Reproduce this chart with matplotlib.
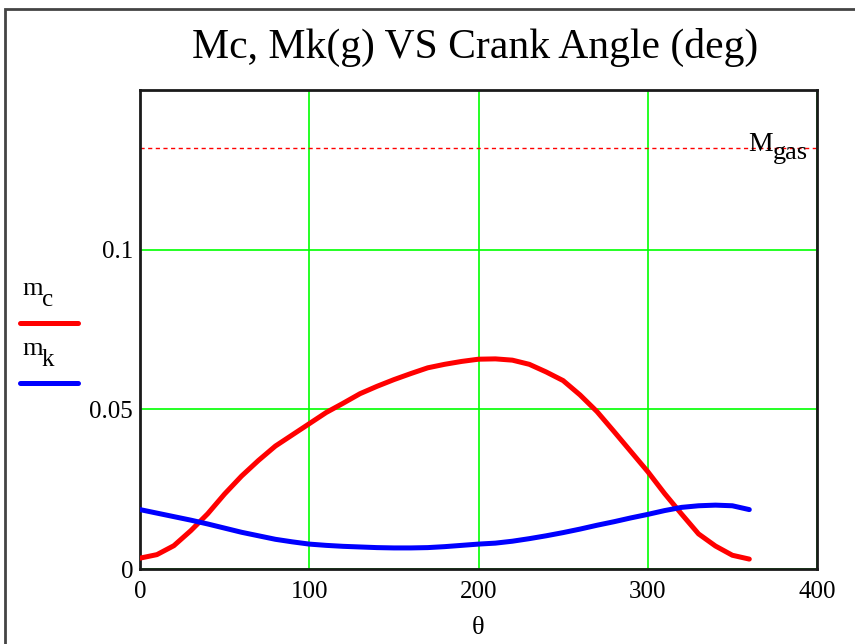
import matplotlib
matplotlib.use("Agg")
import matplotlib.pyplot as plt
from matplotlib.lines import Line2D
from matplotlib.patches import Rectangle

plt.rcParams['font.family'] = ['Liberation Serif', 'DejaVu Serif']

theta = [0, 10, 20, 30, 40, 50, 60, 70, 80, 90, 100, 110, 120, 130, 140, 150, 160, 170, 180,
         190, 200, 210, 220, 230, 240, 250, 260, 270, 280, 290, 300, 310, 320, 330, 340, 350, 360]
m_c = [0.0034, 0.0045, 0.0073, 0.0120, 0.0173, 0.0235, 0.0291, 0.0340, 0.0385, 0.0420, 0.0455,
       0.0490, 0.0519, 0.0549, 0.0572, 0.0593, 0.0612, 0.0630, 0.0641, 0.0650, 0.0657, 0.0658,
       0.0654, 0.0641, 0.0617, 0.0590, 0.0545, 0.0493, 0.0431, 0.0368, 0.0305, 0.0236, 0.0172,
       0.0110, 0.0072, 0.0043, 0.0031]
m_k = [0.0186, 0.0175, 0.0164, 0.0153, 0.0141, 0.0128, 0.0115, 0.0104, 0.0093, 0.0085, 0.0078,
       0.0074, 0.0071, 0.0069, 0.0067, 0.0066, 0.0066, 0.0067, 0.0070, 0.0074, 0.0078, 0.0081,
       0.0087, 0.0095, 0.0104, 0.0114, 0.0125, 0.0137, 0.0148, 0.0160, 0.0171, 0.0183, 0.0193,
       0.0198, 0.0200, 0.0198, 0.0186]
M_gas = 0.1318
x_ticks = [0, 100, 200, 300, 400]
y_ticks = [0, 0.05, 0.1]
y_tick_labels = ['0', '0.05', '0.1']
title = 'Mc, Mk(g) VS Crank Angle (deg)'

W, H = 855, 644


def px(x, y):
    return x / W, 1 - y / H


fig = plt.figure(figsize=(8.55, 6.44), dpi=100)
ax = fig.add_axes([140 / W, 1 - 569 / H, (817 - 140) / W, (569 - 90) / H])

ax.plot(theta, m_c, color='#ff0000', lw=3.6, solid_capstyle='round', solid_joinstyle='round', zorder=3)
ax.plot(theta, m_k, color='#0000ff', lw=3.6, solid_capstyle='round', solid_joinstyle='round', zorder=3)
ax.axhline(M_gas, color='#ff0000', lw=1.0, ls=(0, (3, 2.5)), zorder=2)

ax.set_xlim(0, 400)
ax.set_ylim(0, 0.15)
ax.set_xticks(x_ticks)
ax.set_xticklabels([str(v) for v in x_ticks])
ax.set_yticks(y_ticks)
ax.set_yticklabels(y_tick_labels)
ax.tick_params(length=0, labelsize=18)
ax.tick_params(axis='x', pad=9)
ax.tick_params(axis='y', pad=5)
ax.grid(True, color='#00ff00', lw=1.2)
ax.set_axisbelow(True)
for s in ax.spines.values():
    s.set_linewidth(2)
    s.set_color('#1a1a1a')
ax.set_xlabel('θ', fontsize=19, labelpad=10)

fig.text(*px(475, 58), title, fontsize=30, ha='center', va='baseline')

# M_gas label (main letter + lowered suffix)
fig.text(*px(748, 151), 'M', fontsize=20, ha='left', va='baseline', zorder=5)
fig.text(*px(773, 159), 'gas', fontsize=19, ha='left', va='baseline', zorder=5)

# legend on the left
fig.text(*px(22, 295), 'm', fontsize=19, ha='left', va='baseline')
fig.text(*px(42, 306), 'c', fontsize=18, ha='left', va='baseline')
fig.add_artist(Line2D([20 / W, 78 / W], [1 - 323 / H, 1 - 323 / H], color='#ff0000', lw=3.6,
                      solid_capstyle='round'))
fig.text(*px(22, 355), 'm', fontsize=19, ha='left', va='baseline')
fig.text(*px(42, 366), 'k', fontsize=18, ha='left', va='baseline')
fig.add_artist(Line2D([20 / W, 78 / W], [1 - 383 / H, 1 - 383 / H], color='#0000ff', lw=3.6,
                      solid_capstyle='round'))

# outer frame
fig.add_artist(Rectangle((5 / W, -0.1), 1.2, 1 - 9 / H + 0.1, transform=fig.transFigure,
                         fill=False, edgecolor='#444444', lw=2))

fig.savefig('out.png', dpi=100)
